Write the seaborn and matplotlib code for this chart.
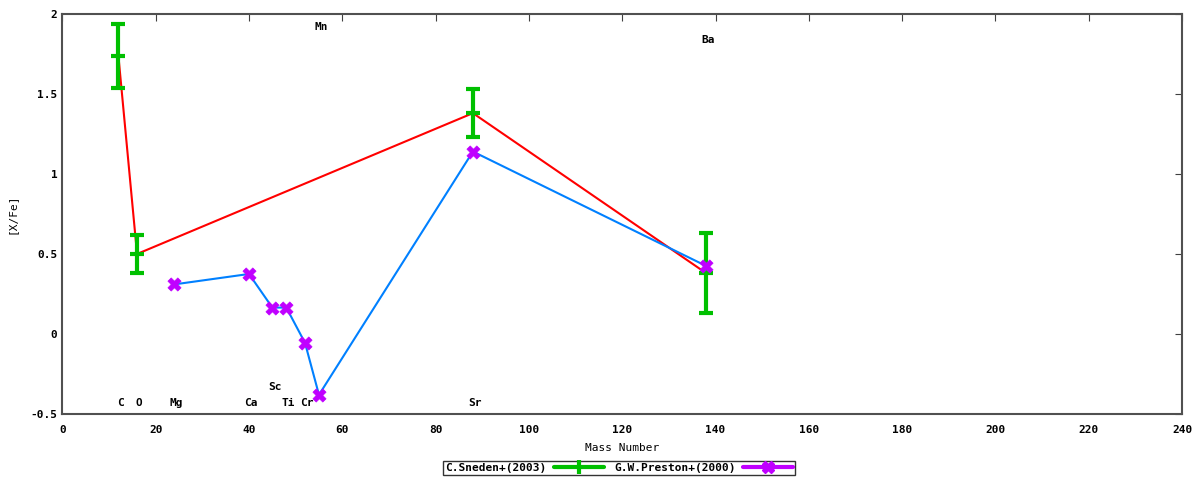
import pandas as pd
import matplotlib.pyplot as plt
import seaborn as sns
from matplotlib.lines import Line2D

sns.set_style("white")
plt.rcParams['font.family'] = ['DejaVu Sans Mono']
plt.rcParams['font.weight'] = 'bold'
plt.rcParams['text.color'] = 'black'
plt.rcParams['axes.labelcolor'] = 'black'
plt.rcParams['xtick.color'] = 'black'
plt.rcParams['ytick.color'] = 'black'

# Sneden+ (2003)
sneden_mass = [12, 16, 88, 138]
sneden_val = [1.74, 0.50, 1.38, 0.38]
sneden_err = [0.20, 0.12, 0.15, 0.25]

# Preston+ (2000)
preston_mass = [24, 40, 45, 48, 52, 55, 88, 138]
preston_val = [0.31, 0.375, 0.165, 0.165, -0.055, -0.38, 1.14, 0.425]

# element labels
elem_names = ["C", "O", "Mg", "Ca", "Sc", "Ti", "Cr", "Mn", "Sr", "Ba"]
elem_x = [12, 16, 24, 40, 45, 48, 52, 55, 88, 138]
elem_y = [-0.43, -0.43, -0.43, -0.43, -0.33, -0.43, -0.43, 1.92, -0.43, 1.84]

green = "#00c000"
red = "#ff0000"
blue = "#0080ff"
purple = "#c000ff"

sn = pd.DataFrame({"mass": sneden_mass, "val": sneden_val, "err": sneden_err})
pr = pd.DataFrame({"mass": preston_mass, "val": preston_val})

fig = plt.figure(figsize=(12, 4.8), dpi=100)
ax = fig.add_axes([0.052, 0.1375, 0.933, 0.8335])

sns.lineplot(data=sn, x="mass", y="val", color=red, lw=1.5, ax=ax, zorder=2)
ax.errorbar(sn["mass"], sn["val"], yerr=sn["err"], fmt="_", color=green,
            ms=10, mew=3, elinewidth=3, capsize=5, capthick=3, zorder=3)

sns.lineplot(data=pr, x="mass", y="val", color=blue, lw=1.5, ax=ax, zorder=2)
sns.scatterplot(data=pr, x="mass", y="val", color=purple, marker="X", s=90,
                edgecolor=purple, linewidth=0.5, ax=ax, zorder=4)

for name, xx, yy in zip(elem_names, elem_x, elem_y):
    ax.text(xx + 0.5, yy, name, ha="center", va="center", fontsize=8,
            color="black")

ax.set_xlim(0, 240)
ax.set_ylim(-0.5, 2)
ax.set_xticks(range(0, 241, 20))
ax.set_yticks([-0.5, 0, 0.5, 1, 1.5, 2])
ax.set_yticklabels(["-0.5", "0", "0.5", "1", "1.5", "2"])
ax.tick_params(direction="in", length=5, labelsize=8, top=True, right=True,
               color="#404040")
ax.tick_params(axis="x", pad=8)
ax.set_xlabel("Mass Number", fontsize=8, labelpad=6)
ax.set_ylabel("[X/Fe]", fontsize=8, labelpad=10)
for s in ax.spines.values():
    s.set_color("#505050")
    s.set_linewidth(1.5)

h1 = Line2D([0], [0], color=green, lw=3, marker="|", ms=10, mew=3)
h2 = Line2D([0], [0], color=purple, lw=3, marker="X", ms=9, mew=1)
fig.legend([h1, h2], ["C.Sneden+(2003)", "G.W.Preston+(2000)"],
           loc="center", bbox_to_anchor=(0.516, 0.025), ncol=2,
           markerfirst=False, frameon=True, fancybox=False, fontsize=8,
           edgecolor="black", borderpad=0.2, handlelength=4.5,
           columnspacing=1.0, handletextpad=0.6, borderaxespad=0)

fig.savefig("out.png", dpi=100)
